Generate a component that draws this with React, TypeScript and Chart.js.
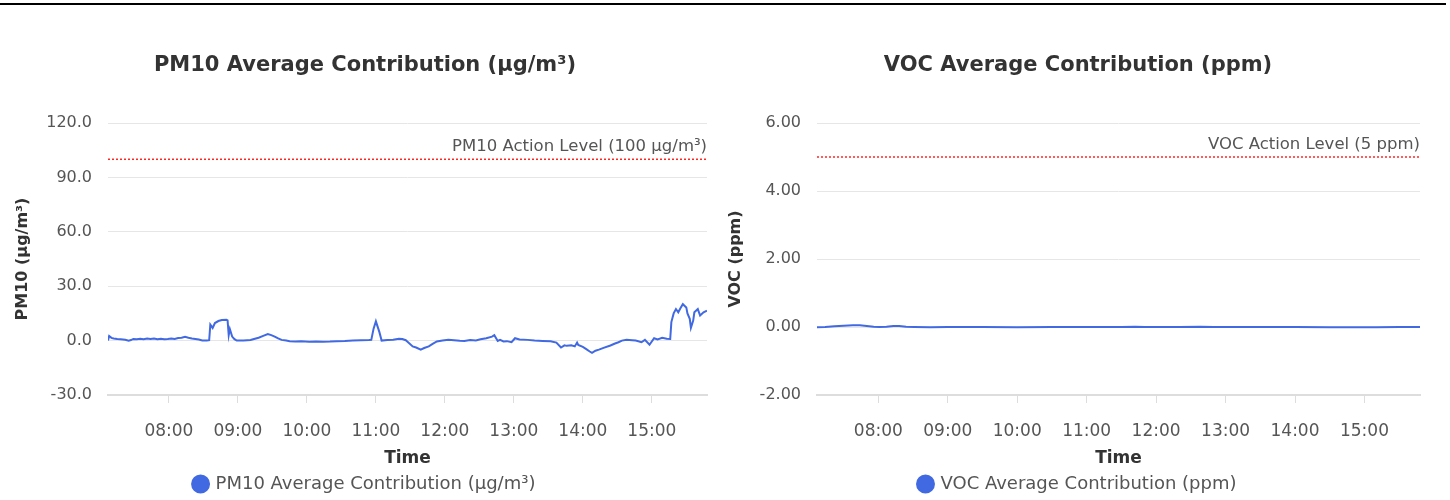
import React, { useEffect, useRef } from 'react';
import Chart from 'chart.js/auto';

const FONT = "'DejaVu Sans', sans-serif";

// ---- PM10 series ----
const pm10Times = [
  '07:07', '07:08', '07:10', '07:12', '07:15', '07:18', '07:22', '07:25', '07:27', '07:29',
  '07:32', '07:35', '07:38', '07:41', '07:44', '07:47', '07:50', '07:53', '07:56', '07:59',
  '08:02', '08:05', '08:08', '08:11', '08:14', '08:17', '08:20', '08:23', '08:26', '08:29',
  '08:33', '08:35', '08:36', '08:38', '08:40', '08:43', '08:46', '08:50', '08:51', '08:52',
  '08:53', '08:55', '08:57', '08:59', '09:05', '09:11', '09:14', '09:18', '09:22', '09:26',
  '09:29', '09:32', '09:35', '09:38', '09:42', '09:45', '09:50', '09:55', '10:02', '10:08',
  '10:14', '10:20', '10:26', '10:33', '10:40', '10:47', '10:54', '10:56', '10:58', '11:00',
  '11:03', '11:05', '11:10', '11:15', '11:20', '11:23', '11:26', '11:28', '11:32', '11:35',
  '11:39', '11:42', '11:46', '11:49', '11:53', '11:58', '12:03', '12:08', '12:13', '12:17',
  '12:22', '12:27', '12:31', '12:36', '12:41', '12:43', '12:46', '12:48', '12:51', '12:54',
  '12:58', '13:01', '13:05', '13:12', '13:18', '13:25', '13:32', '13:37', '13:41', '13:44',
  '13:46', '13:50', '13:53', '13:55', '13:56', '14:00', '14:03', '14:06', '14:08', '14:11',
  '14:14', '14:18', '14:24', '14:28', '14:31', '14:34', '14:38', '14:43', '14:46', '14:51',
  '14:54', '14:58', '15:02', '15:05', '15:09', '15:13', '15:16', '15:17', '15:19', '15:21',
  '15:23', '15:25', '15:27', '15:30', '15:31', '15:33', '15:34', '15:36', '15:37', '15:40',
  '15:42', '15:45', '15:48',
];
const pm10Values = [
  0.0, 2.5, 1.5, 1.2, 0.9, 0.8, 0.5, 0.0, 0.3, 0.9,
  0.7, 1.0, 0.8, 1.1, 0.9, 1.2, 0.8, 1.0, 0.7, 0.9,
  1.2, 0.9, 1.4, 1.6, 2.1, 1.6, 1.2, 0.9, 0.6, 0.1,
  0.0, 0.2, 8.8, 7.0, 9.7, 10.8, 11.3, 11.5, 11.2, 3.0,
  6.3, 2.2, 0.8, 0.0, 0.1, 0.3, 0.9, 1.6, 2.6, 3.6,
  3.0, 2.2, 1.2, 0.4, 0.0, -0.4, -0.5, -0.4, -0.7, -0.5,
  -0.6, -0.5, -0.3, -0.2, 0.0, 0.2, 0.3, 0.4, 6.6, 10.6,
  4.8, 0.0, 0.3, 0.5, 1.0, 0.9, 0.2, -0.9, -3.2, -3.8,
  -5.0, -4.1, -3.2, -2.0, -0.5, 0.0, 0.4, 0.2, -0.1, -0.2,
  0.3, 0.1, 0.7, 1.3, 2.2, 3.0, -0.2, 0.4, -0.5, -0.3,
  -0.9, 1.3, 0.6, 0.4, 0.0, -0.2, -0.4, -1.1, -3.8, -2.6,
  -2.9, -2.6, -3.2, -1.1, -2.4, -3.5, -4.7, -6.0, -6.8, -5.6,
  -5.0, -4.0, -2.7, -1.6, -0.9, 0.0, 0.4, 0.2, 0.0, -0.9,
  0.4, -2.3, 1.3, 0.7, 1.6, 1.0, 0.9, 10.2, 15.0, 17.4,
  15.6, 18.0, 20.1, 18.3, 15.0, 12.0, 7.0, 11.0, 15.6, 17.4,
  13.8, 15.6, 16.5,
];

// ---- VOC series ----
const vocTimes = [
  '07:07', '07:14', '07:22', '07:30', '07:38', '07:44', '07:50', '07:56', '08:01', '08:07',
  '08:13', '08:18', '08:24', '08:31', '08:45', '09:00', '09:30', '10:00', '10:30', '11:00',
  '11:30', '11:42', '11:50', '12:20', '12:38', '12:50', '13:30', '14:00', '14:30', '14:50',
  '15:10', '15:30', '15:48',
];
const vocValues = [
  -0.01, 0.0, 0.02, 0.04, 0.05, 0.05, 0.03, 0.01, 0.0, 0.01,
  0.03, 0.03, 0.01, 0.0, -0.01, 0.0, 0.0, -0.01, 0.0, 0.0,
  0.0, 0.01, 0.0, 0.0, 0.01, 0.0, 0.0, 0.0, -0.01, -0.01,
  -0.01, 0.0, 0.0,
];

// ---- axis / label settings ----
const pm10Ticks = { min: -30, max: 120, step: 30, decimals: 1 };
const vocTicks = { min: -2, max: 6, step: 2, decimals: 2 };
const pm10ActionLevel = 100;
const vocActionLevel = 5;

const pm10Title = 'PM10 Average Contribution (µg/m³)';
const pm10AxisTitle = 'PM10 (µg/m³)';
const pm10ActionLabel = 'PM10 Action Level (100 µg/m³)';
const vocTitle = 'VOC Average Contribution (ppm)';
const vocAxisTitle = 'VOC (ppm)';
const vocActionLabel = 'VOC Action Level (5 ppm)';
const xAxisTitle = 'Time';

const LINE_COLOR = '#4169e1';

const toMin = (t: string) => {
  const [h, m] = t.split(':').map(Number);
  return h * 60 + m;
};
const fmt = (v: number) => {
  const h = Math.floor(v / 60);
  const m = Math.round(v % 60);
  return `${String(h).padStart(2, '0')}:${String(m).padStart(2, '0')}`;
};

function buildConfig(p: {
  times: string[];
  values: number[];
  title: string;
  label: string;
  axisTitle: string;
  level: number;
  levelLabel: string;
  ticks: { min: number; max: number; step: number; decimals: number };
  yWidth: number;
}) {
  const xs = p.times.map(toMin);
  const xMin = xs[0];
  const xMax = xs[xs.length - 1];
  const actionPlugin = {
    id: 'actionLabel',
    afterDatasetsDraw(chart: any) {
      const { ctx, chartArea, scales } = chart;
      const y = scales.y.getPixelForValue(p.level);
      ctx.save();
      ctx.font = `16.5px ${FONT}`;
      ctx.fillStyle = '#555';
      ctx.textAlign = 'right';
      ctx.textBaseline = 'alphabetic';
      ctx.fillText(p.levelLabel, chartArea.right, y - 8);
      ctx.restore();
    },
  };
  return {
    type: 'line',
    data: {
      datasets: [
        {
          label: p.label,
          data: xs.map((x, i) => ({ x, y: p.values[i] })),
          borderColor: LINE_COLOR,
          backgroundColor: LINE_COLOR,
          borderWidth: 2,
          pointRadius: 0,
          tension: 0,
        },
        {
          label: p.levelLabel,
          data: [
            { x: xMin, y: p.level },
            { x: xMax, y: p.level },
          ],
          borderColor: 'rgba(255,0,0,0.85)',
          backgroundColor: 'rgba(255,0,0,0.85)',
          borderWidth: 1.5,
          borderDash: [2, 2],
          pointRadius: 0,
        },
      ],
    },
    options: {
      animation: false,
      responsive: true,
      maintainAspectRatio: false,
      layout: { padding: 0 },
      plugins: {
        title: {
          display: true,
          text: p.title,
          color: '#333',
          font: { family: FONT, size: 21, weight: 'bold' },
          padding: { top: 53.4, bottom: 44.4 },
        },
        legend: {
          position: 'bottom',
          labels: {
            usePointStyle: true,
            pointStyle: 'circle',
            boxWidth: 12,
            boxHeight: 12,
            padding: 4,
            color: '#555',
            font: { family: FONT, size: 18 },
            filter: (item: any) => item.datasetIndex === 0,
          },
        },
        tooltip: { enabled: false },
      },
      scales: {
        x: {
          type: 'linear',
          min: xMin,
          max: xMax,
          afterBuildTicks: (scale: any) => {
            scale.ticks = scale.ticks.filter((t: any) => t.value % 60 === 0);
          },
          afterFit: (scale: any) => {
            scale.height = 76;
          },
          ticks: {
            stepSize: 60,
            padding: 18,
            color: '#555',
            font: { family: FONT, size: 17 },
            maxRotation: 0,
            callback: (v: number) => fmt(v),
          },
          grid: {
            drawOnChartArea: false,
            drawTicks: true,
            tickLength: 8,
            tickColor: '#ddd',
          },
          border: { display: true, color: '#ddd', width: 2 },
          title: {
            display: true,
            text: xAxisTitle,
            color: '#333',
            font: { family: FONT, size: 17, weight: 'bold' },
            padding: { top: 0, bottom: 1.8 },
          },
        },
        y: {
          min: p.ticks.min,
          max: p.ticks.max,
          afterFit: (scale: any) => {
            scale.width = p.yWidth;
          },
          ticks: {
            stepSize: p.ticks.step,
            padding: 16,
            color: '#555',
            font: { family: FONT, size: 16 },
            callback: (v: number) => Number(v).toFixed(p.ticks.decimals),
          },
          grid: { color: '#e6e6e6', drawTicks: false },
          border: { display: false },
          title: {
            display: true,
            text: p.axisTitle,
            color: '#333',
            font: { family: FONT, size: 16, weight: 'bold' },
            padding: { top: 5.4, bottom: 0 },
          },
        },
        yPad: {
          position: 'right',
          display: true,
          afterFit: (scale: any) => {
            scale.width = 15;
          },
          ticks: { display: false },
          grid: { display: false, drawTicks: false },
          border: { display: false },
        },
      },
    },
    plugins: [actionPlugin],
  };
}

function LineChart({ config, left }: { config: any; left: number }) {
  const ref = useRef<HTMLCanvasElement | null>(null);
  useEffect(() => {
    if (!ref.current) return;
    const chart = new Chart(ref.current, config);
    return () => chart.destroy();
  }, [config]);
  return (
    <div style={{ position: 'absolute', left, top: 0, width: 714, height: 503 }}>
      <canvas ref={ref} />
    </div>
  );
}

const pm10Config = buildConfig({
  times: pm10Times,
  values: pm10Values,
  title: pm10Title,
  label: pm10Title,
  axisTitle: pm10AxisTitle,
  level: pm10ActionLevel,
  levelLabel: pm10ActionLabel,
  ticks: pm10Ticks,
  yWidth: 100,
});
const vocConfig = buildConfig({
  times: vocTimes,
  values: vocValues,
  title: vocTitle,
  label: vocTitle,
  axisTitle: vocAxisTitle,
  level: vocActionLevel,
  levelLabel: vocActionLabel,
  ticks: vocTicks,
  yWidth: 96,
});

export default function App() {
  return (
    <div
      style={{
        position: 'absolute',
        left: 0,
        top: 0,
        width: 1450,
        height: 500,
        overflow: 'hidden',
        background: '#fff',
      }}
    >
      <div style={{ position: 'absolute', left: 0, top: 3, width: 1446, height: 2, background: '#000' }} />
      <LineChart config={pm10Config} left={8} />
      <LineChart config={vocConfig} left={721} />
    </div>
  );
}
